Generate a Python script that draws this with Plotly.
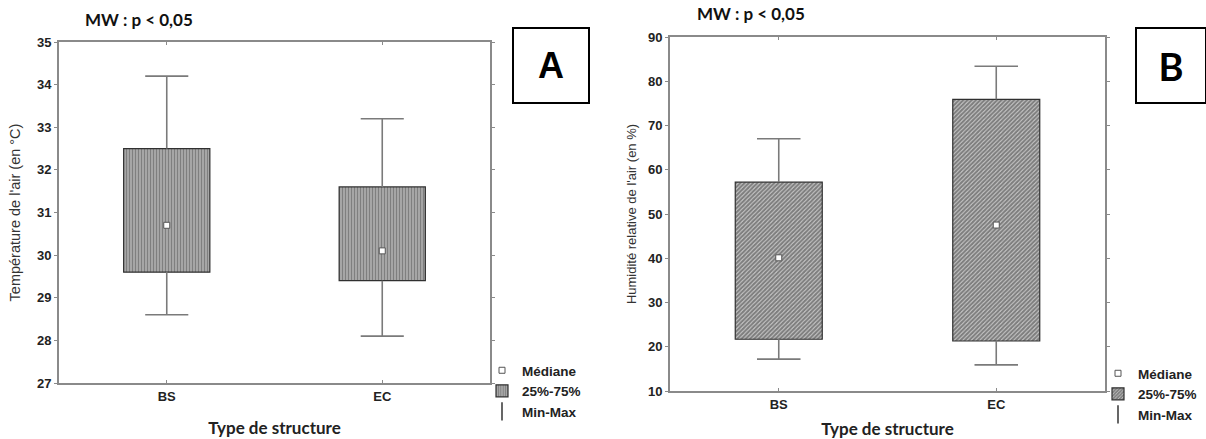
import plotly.graph_objects as go

# ---------------- data ----------------
categories = ["BS", "EC"]

# Panel A : air temperature (°C)
temp_min = [28.6, 28.1]
temp_q1 = [29.6, 29.4]
temp_median = [30.7, 30.1]
temp_q3 = [32.5, 31.6]
temp_max = [34.2, 33.2]

# Panel B : relative air humidity (%)
hum_min = [17.2, 15.9]
hum_q1 = [21.7, 21.3]
hum_median = [40.1, 47.5]
hum_q3 = [57.2, 75.9]
hum_max = [67.0, 83.4]

temp_ticks = [27, 28, 29, 30, 31, 32, 33, 34, 35]
hum_ticks = [10, 20, 30, 40, 50, 60, 70, 80, 90]

# ---------------- style ----------------
W, H = 1206, 439
AXIS_GREY = "#8a8a8a"
WHISKER_GREY = "#7a7a7a"
TXT = "#222222"
BOX_W = 0.4
CAP = 0.1
pos = list(range(len(categories)))


def px(x):
    return x / W


def py(y):
    return 1 - y / H


def whisker_xy(q1, q3, lo, hi):
    xs, ys = [], []
    for i in pos:
        xs += [i, i, None, i - CAP, i + CAP, None, i, i, None, i - CAP, i + CAP, None]
        ys += [q3[i], hi[i], None, hi[i], hi[i], None, q1[i], lo[i], None, lo[i], lo[i], None]
    return xs, ys


fig = go.Figure()


def add_panel(xa, ya, legend, q1, med, q3, lo, hi, shape, fg, size, solidity):
    fig.add_trace(go.Bar(
        x=pos, y=[a - b for a, b in zip(q3, q1)], base=q1, width=BOX_W,
        xaxis=xa, yaxis=ya, legend=legend, name="25%-75%",
        marker=dict(color="white",
                    pattern=dict(shape=shape, fgcolor=fg, bgcolor="white",
                                 size=size, solidity=solidity, fillmode="overlay"),
                    line=dict(color="#303030", width=1.2)),
        legendrank=2, hoverinfo="skip"))
    wx, wy = whisker_xy(q1, q3, lo, hi)
    fig.add_trace(go.Scatter(
        x=wx, y=wy, mode="lines", xaxis=xa, yaxis=ya, showlegend=False,
        line=dict(color=WHISKER_GREY, width=1.6), hoverinfo="skip"))
    fig.add_trace(go.Scatter(
        x=pos, y=med, mode="markers", xaxis=xa, yaxis=ya, legend=legend,
        name="Médiane", legendrank=1,
        marker=dict(symbol="square", size=6, color="white",
                    line=dict(color="#555555", width=1))))
    fig.add_trace(go.Scatter(
        x=[None], y=[None], mode="markers", xaxis=xa, yaxis=ya, legend=legend,
        name="Min-Max", legendrank=3,
        marker=dict(symbol="line-ns", size=13, color=WHISKER_GREY,
                    line=dict(color="#404040", width=1.6))))


add_panel("x", "y", "legend", temp_q1, temp_median, temp_q3, temp_min, temp_max,
          "|", "#000000", 3, 0.8)
add_panel("x2", "y2", "legend2", hum_q1, hum_median, hum_q3, hum_min, hum_max,
          "/", "#000000", 3, 0.82)

tickfont = dict(family="Liberation Sans, Arial", size=13, color=TXT, weight="bold")
common_x = dict(range=[-0.5, 1.5], tickvals=pos, ticktext=categories,
                showgrid=False, zeroline=False, showline=True, linecolor=AXIS_GREY,
                linewidth=2, mirror="ticks", ticks="inside", ticklen=3,
                tickcolor=AXIS_GREY, tickfont=tickfont)
common_y = dict(showgrid=False, zeroline=False, showline=True, linecolor=AXIS_GREY,
                linewidth=2, mirror="ticks", ticks="outside", ticklen=3,
                tickcolor=AXIS_GREY, tickfont=tickfont)

xtitle_font = dict(family="Lato, Open Sans, sans-serif", size=17, color=TXT, weight="bold")
ytitle_font_a = dict(family="Liberation Sans, Arial", size=14.5, color="#333333")
ytitle_font_b = dict(family="Liberation Sans, Arial", size=13, color="#333333")
legend_font = dict(family="Liberation Sans, Arial", size=13.5, color=TXT, weight="bold")

fig.update_layout(
    width=W, height=H,
    margin=dict(l=0, r=0, t=0, b=0, autoexpand=False),
    paper_bgcolor="white", plot_bgcolor="white",
    barmode="overlay",
    xaxis=dict(common_x, domain=[px(59), px(490)], anchor="y",
               title=dict(text="Type de structure", font=xtitle_font, standoff=20)),
    yaxis=dict(common_y, domain=[py(383), py(42)], anchor="x", range=[27, 35],
               tickvals=temp_ticks,
               title=dict(text="Température de l'air (en °C)", font=ytitle_font_a, standoff=13)),
    xaxis2=dict(common_x, domain=[px(670), px(1105)], anchor="y2",
                title=dict(text="Type de structure", font=xtitle_font, standoff=20)),
    yaxis2=dict(common_y, domain=[py(391), py(37)], anchor="x2", range=[10, 90],
                tickvals=hum_ticks,
                title=dict(text="Humidité relative de l'air (en %)", font=ytitle_font_b, standoff=8)),
    legend=dict(x=px(482), y=py(355), xanchor="left", yanchor="top",
                bgcolor="rgba(0,0,0,0)", itemwidth=30, tracegroupgap=0, font=legend_font),
    legend2=dict(x=px(1098), y=py(358), xanchor="left", yanchor="top",
                 bgcolor="rgba(0,0,0,0)", itemwidth=30, tracegroupgap=0, font=legend_font),
    showlegend=True,
)

ann_font = dict(family="Lato, Open Sans, sans-serif", size=17, color="#111111", weight="bold")
fig.add_annotation(x=px(139), y=py(20), xref="paper", yref="paper", text="MW : p < 0,05",
                   xanchor="center", yanchor="middle", showarrow=False, font=ann_font)
fig.add_annotation(x=px(751), y=py(14), xref="paper", yref="paper", text="MW : p < 0,05",
                   xanchor="center", yanchor="middle", showarrow=False, font=ann_font)

box_font = dict(family="Liberation Sans, Arial", size=36, color="black", weight="bold")
fig.add_annotation(x=px(551), y=py(65.5), xref="paper", yref="paper", text="A",
                   xanchor="center", yanchor="middle",
                   showarrow=False, font=box_font, width=72, height=71,
                   bordercolor="black", borderwidth=2, borderpad=1, bgcolor="white")
box_font_b = dict(family="Lato, Open Sans, sans-serif", size=38, color="black", weight="bold")
fig.add_annotation(x=px(1171), y=py(65.5), xref="paper", yref="paper", text="B",
                   xanchor="center", yanchor="middle",
                   showarrow=False, font=box_font_b, width=66, height=71,
                   bordercolor="black", borderwidth=2, borderpad=1, bgcolor="white")

fig.write_html("out.html", config={"displayModeBar": False},
               post_script="document.body.style.margin='0';")
